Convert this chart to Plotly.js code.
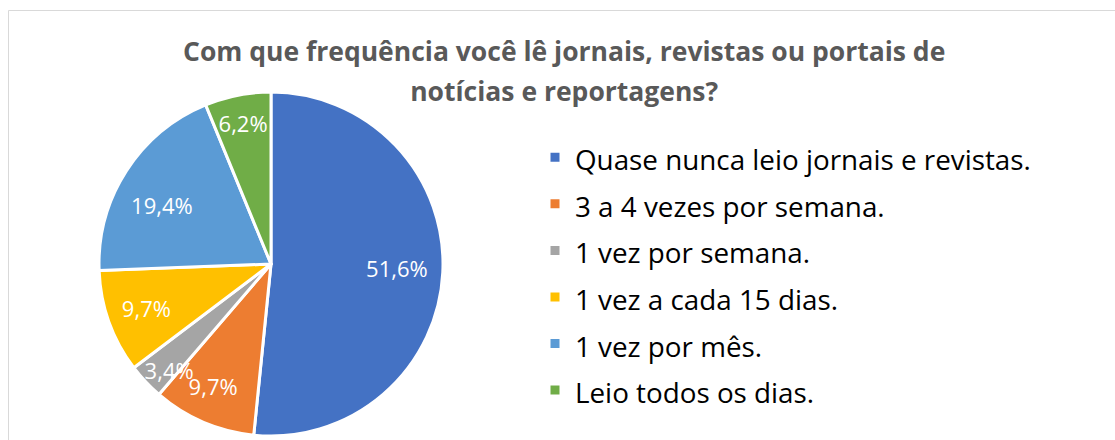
<!DOCTYPE html>
<html><head><meta charset="utf-8">
<script src="https://cdn.plot.ly/plotly-3.0.1.min.js"></script>
<style>html,body{margin:0;padding:0;background:#fff}</style>
</head><body><div id="chart" style="width:1115px;height:440px"></div>
<script>
const categories = [
  'Quase nunca leio jornais e revistas.',
  '3 a 4 vezes por semana.',
  '1 vez por semana.',
  '1 vez a cada 15 dias.',
  '1 vez por mês.',
  'Leio todos os dias.'
];
const values = [51.6, 9.7, 3.4, 9.7, 19.4, 6.2];
const colors = ['#4472C4', '#ED7D31', '#A5A5A5', '#FFC000', '#5B9BD5', '#70AD47'];
const titleLines = ['Com que frequência você lê jornais, revistas ou portais de', 'notícias e reportagens?'];

const FONT = 'Open Sans, Liberation Sans, sans-serif';
const NB = '\u00A0';
const legendLabels = categories.map(c => '<span style="font-size:27.8px">' + c + '</span>');
const titleText = titleLines.map(t => '<span style="font-size:26.5px">' + t + '</span>').join('<br>');
// label padding (non-breaking spaces) nudges labels toward Excel's placement
const padBefore = [14, 0, 4, 0, 0, 0];
const padAfter = [0, 2, 0, 0, 6, 0];
const textTemplates = values.map((v, i) => NB.repeat(padBefore[i]) + '%{value:.1f}%' + NB.repeat(padAfter[i]));

const trace = {
  type: 'pie',
  labels: legendLabels,
  values: values,
  sort: false,
  direction: 'clockwise',
  rotation: 0,
  marker: { colors: colors, line: { color: '#FFFFFF', width: 3 } },
  texttemplate: textTemplates,
  textposition: 'inside',
  insidetextorientation: 'horizontal',
  textfont: { color: '#FFFFFF', size: 22, family: FONT },
  hoverinfo: 'none',
  domain: { x: [0.0888, 0.3973], y: [0.009, 0.791] }
};

const layout = {
  width: 1115, height: 440,
  margin: { l: 0, r: 0, t: 0, b: 0 },
  paper_bgcolor: '#FFFFFF',
  separators: ',.',
  font: { family: FONT },
  uniformtext: { minsize: 22, mode: 'show' },
  title: {
    text: titleText,
    font: { family: FONT, size: 30.8, color: '#595959', weight: 'bold' },
    x: 0.506, xanchor: 'center', xref: 'paper',
    y: 1 - 61 / 440, yanchor: 'top', yref: 'container'
  },
  showlegend: true,
  legend: {
    x: 535 / 1115, xanchor: 'left',
    y: 1 - 129 / 440, yanchor: 'top',
    font: { family: FONT, size: 33.5, color: '#000000' },
    bgcolor: 'rgba(0,0,0,0)',
    traceorder: 'normal'
  },
  shapes: [{
    type: 'rect', xref: 'paper', yref: 'paper',
    x0: 8.5 / 1115, x1: 1.02, y0: -0.05, y1: 1 - 10.5 / 440,
    line: { color: '#D9D9D9', width: 1 }, fillcolor: 'rgba(0,0,0,0)', layer: 'below'
  }]
};

Plotly.newPlot('chart', [trace], layout, { displayModeBar: false, staticPlot: true });
</script></body></html>
